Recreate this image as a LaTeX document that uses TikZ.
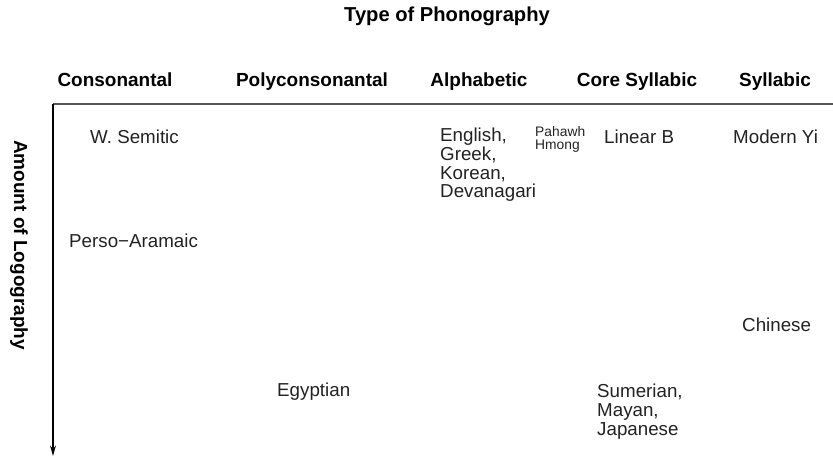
\documentclass[tikz,border=0pt]{standalone}
\usepackage{fontspec}
\setmainfont{Liberation Sans}
\usetikzlibrary{arrows.meta,positioning}
\definecolor{axisgray}{HTML}{555555}
\definecolor{txtgray}{HTML}{222222}

\begin{document}
\begin{tikzpicture}[
      x=0.03cm,y=-0.03cm,
      head/.style={font=\bfseries\fontsize{16.2}{19}\selectfont,inner sep=0pt,text=black},
      script/.style={font=\fontsize{16}{15.9}\selectfont,inner sep=0pt,
                     align=left,text=txtgray},
      tiny script/.style={script,font=\fontsize{11.8}{11}\selectfont},
      axis/.style={line width=1.6pt,axisgray},
      arrow/.style={-{Stealth[length=9pt,width=5pt]},line width=0.9pt,black}
    ]
    \useasboundingbox (0,0) rectangle (833,457);

    % titles
    \node[head,anchor=base,font=\bfseries\fontsize{17.2}{20}\selectfont] (title) at (447,22) {Type of Phonography};
    \node[head,rotate=-90] (ylab) at (19,245) {Amount of Logography};

    % column headers
    \node[head,anchor=base] (cons)  at (115,87) {Consonantal};
    \node[head,anchor=base] (poly)  at (312,87) {Polyconsonantal};
    \node[head,anchor=base] (alph)  at (479,87) {Alphabetic};
    \node[head,anchor=base] (core)  at (637,87) {Core Syllabic};
    \node[head,anchor=base] (syll)  at (775,87) {Syllabic};

    % axes
    \coordinate (origin) at (53,104);
    \coordinate (xend)   at (833,104);
    \coordinate (yend)   at (53,456);
    \draw[axis] (xend) -- (origin);
    \draw[arrow] (origin) -- (yend);

    % scripts
    \node[script,anchor=west] (wsem)   at (90,137)  {W. Semitic};
    \node[script,anchor=west] (perso)  at (69,241)  {Perso{\char"2212}Aramaic};
    \node[script,anchor=north west] (engl) at (440,128)
          {English,\\Greek,\\Korean,\\Devanagari};
    \node[tiny script,anchor=north west] (hmong) at (535,126) {Pahawh\\Hmong};
    \node[script,anchor=west] (linb)   at (604,137) {Linear B};
    \node[script,anchor=west] (yi)     at (733,137) {Modern Yi};
    \node[script,anchor=west] (chin)   at (742,325) {Chinese};
    \node[script,anchor=west] (egypt)  at (277,392) {Egyptian};
    \node[script,anchor=north west] (sumer) at (597,384)
          {Sumerian,\\Mayan,\\Japanese};

\end{tikzpicture}
\end{document}
